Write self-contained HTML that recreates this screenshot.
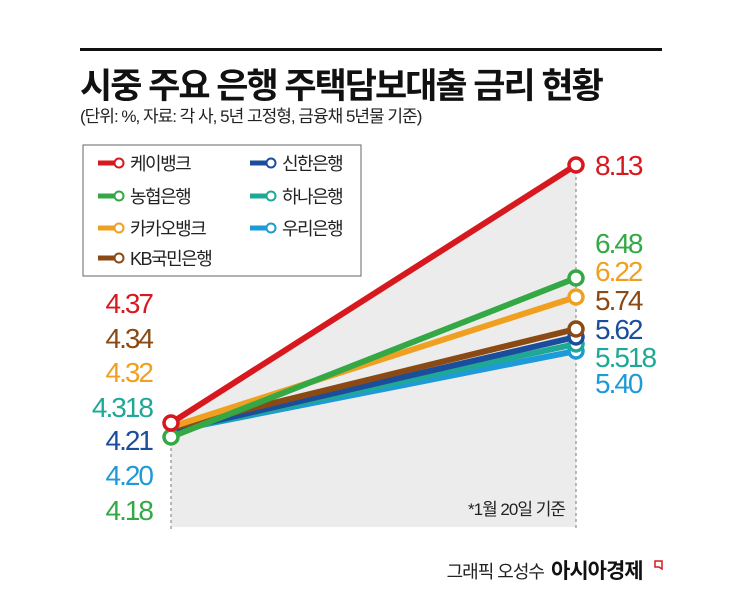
<!DOCTYPE html>
<html><head><meta charset="utf-8"><style>
body{margin:0;width:745px;height:599px;background:#fff;overflow:hidden;font-family:"Liberation Sans","Noto Sans CJK KR",sans-serif;}
</style></head><body>
<svg width="745" height="599" xmlns="http://www.w3.org/2000/svg" style="font-family:'Liberation Sans','Noto Sans CJK KR',sans-serif">
<rect x="80" y="48" width="582" height="3" fill="#111"/>
<text x="80" y="98" font-size="35" font-weight="bold" fill="#111" letter-spacing="-2">시중 주요 은행 주택담보대출 금리 현황</text>
<text x="80" y="122" font-size="17" fill="#222" letter-spacing="-1">(단위: %, 자료: 각 사, 5년 고정형, 금융채 5년물 기준)</text>
<polygon points="171,423 576,165 576,527 171,527" fill="#ececec"/>
<line x1="171" y1="430" x2="171" y2="530" stroke="#777" stroke-dasharray="3,3"/>
<line x1="576" y1="165" x2="576" y2="530" stroke="#777" stroke-dasharray="3,3"/>
<rect x="83" y="145" width="278" height="131" fill="#fff" stroke="#666"/>
<g stroke-width="6" fill="none" stroke-linecap="round">
<line x1="171" y1="431" x2="576" y2="351" stroke="#1e9ad8"/>
<line x1="171" y1="431" x2="576" y2="344" stroke="#1ea896"/>
<line x1="171" y1="431" x2="576" y2="337" stroke="#1a4e9c"/>
<line x1="171" y1="428" x2="576" y2="329" stroke="#8b4a14"/>
<line x1="171" y1="427" x2="576" y2="297" stroke="#f0a020"/>
<line x1="171" y1="437" x2="576" y2="278" stroke="#34a844"/>
<line x1="171" y1="423" x2="576" y2="165" stroke="#d7191f"/>
</g>
<g fill="#fff" stroke-width="3.5">
<circle cx="576" cy="351" r="7" stroke="#1e9ad8"/>
<circle cx="576" cy="344" r="7" stroke="#1ea896"/>
<circle cx="576" cy="337" r="7" stroke="#1a4e9c"/>
<circle cx="576" cy="329" r="7" stroke="#8b4a14"/>
<circle cx="576" cy="297" r="7" stroke="#f0a020"/>
<circle cx="576" cy="278" r="7" stroke="#34a844"/>
<circle cx="576" cy="165" r="7" stroke="#d7191f"/>
<circle cx="171" cy="437" r="7" stroke="#34a844"/>
<circle cx="171" cy="423" r="7" stroke="#d7191f"/>
</g>
<g font-size="18" fill="#222" letter-spacing="-1.5">
<g stroke-width="5"><line x1="98" y1="163" x2="115" y2="163" stroke="#d7191f"/><line x1="98" y1="196" x2="115" y2="196" stroke="#34a844"/><line x1="98" y1="228" x2="115" y2="228" stroke="#f0a020"/><line x1="98" y1="258" x2="115" y2="258" stroke="#8b4a14"/>
<line x1="250" y1="163" x2="267" y2="163" stroke="#1a4e9c"/><line x1="250" y1="196" x2="267" y2="196" stroke="#1ea896"/><line x1="250" y1="228" x2="267" y2="228" stroke="#1e9ad8"/></g>
<g fill="#fff" stroke-width="2"><circle cx="119" cy="163" r="4.5" stroke="#d7191f"/><circle cx="119" cy="196" r="4.5" stroke="#34a844"/><circle cx="119" cy="228" r="4.5" stroke="#f0a020"/><circle cx="119" cy="258" r="4.5" stroke="#8b4a14"/>
<circle cx="271" cy="163" r="4.5" stroke="#1a4e9c"/><circle cx="271" cy="196" r="4.5" stroke="#1ea896"/><circle cx="271" cy="228" r="4.5" stroke="#1e9ad8"/></g>
<text x="130" y="170">케이뱅크</text><text x="130" y="203">농협은행</text><text x="130" y="235">카카오뱅크</text><text x="130" y="265">KB국민은행</text>
<text x="282" y="170">신한은행</text><text x="282" y="203">하나은행</text><text x="282" y="235">우리은행</text>
</g>
<g font-size="28" text-anchor="end" letter-spacing="-2">
<text x="152" y="313" fill="#d7191f">4.37</text>
<text x="152" y="348" fill="#8b4a14">4.34</text>
<text x="152" y="382" fill="#f0a020">4.32</text>
<text x="152" y="417" fill="#1ea896">4.318</text>
<text x="152" y="450" fill="#1a4e9c">4.21</text>
<text x="152" y="485" fill="#1e9ad8">4.20</text>
<text x="152" y="520" fill="#34a844">4.18</text>
</g>
<g font-size="28" letter-spacing="-2">
<text x="595" y="175" fill="#d7191f">8.13</text>
<text x="595" y="253" fill="#34a844">6.48</text>
<text x="595" y="281" fill="#f0a020">6.22</text>
<text x="595" y="310" fill="#8b4a14">5.74</text>
<text x="595" y="339" fill="#1a4e9c">5.62</text>
<text x="595" y="367" fill="#1ea896">5.518</text>
<text x="595" y="393" fill="#1e9ad8">5.40</text>
</g>
<text x="565" y="515" font-size="17" text-anchor="end" fill="#222" letter-spacing="-1">*1월 20일 기준</text>
<text x="544" y="578" font-size="18" text-anchor="end" fill="#222" letter-spacing="-1">그래픽 오성수</text>
<text x="551" y="578" font-size="21" font-weight="bold" fill="#111" letter-spacing="-1">아시아경제</text>
<path d="M655 561 h7 v8 l-3 -2 h-4 z" fill="none" stroke="#d7191f" stroke-width="1.5"/>
</svg>
</body></html>
